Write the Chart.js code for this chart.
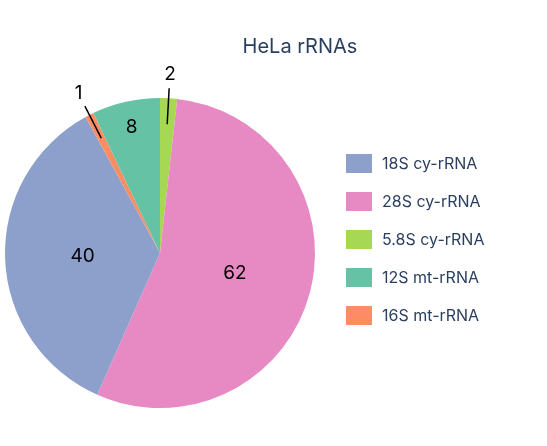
<!DOCTYPE html>
<html><head><script src="https://cdn.jsdelivr.net/npm/chart.js@4"></script>
<style>body{margin:0;background:#fff}</style></head>
<body><canvas id="c" width="547" height="446" style="width:547px;height:446px"></canvas>
<script>
const categories = ["5.8S cy-rRNA","28S cy-rRNA","18S cy-rRNA","16S mt-rRNA","12S mt-rRNA"];
const values = [2,62,40,1,8];
const colors = ["#a6d854","#e78ac3","#8da0cb","#fc8d62","#66c2a5"];
const legendOrder = ["18S cy-rRNA","28S cy-rRNA","5.8S cy-rRNA","12S mt-rRNA","16S mt-rRNA"];
const labelPos = [-1,0.5,0.5,-1,0.83]; // -1 = outside with leader
const F = "Inter, 'Noto Sans', sans-serif";
const deco = {
  id:'deco',
  afterDraw(ch){
    const c = ch.ctx, arcs = ch.getDatasetMeta(0).data;
    c.save();
    c.fillStyle='#2a3f5f'; c.textAlign='center'; c.textBaseline='middle';
    c.font='20px '+F; c.fillText('HeLa rRNAs',300,47);
    arcs.forEach((a,i)=>{
      const m=(a.startAngle+a.endAngle)/2, r=a.outerRadius, cx=a.x, cy=a.y;
      c.fillStyle='#000'; c.font='19px '+F;
      if(labelPos[i]>0){
        c.fillText(String(values[i]),cx+Math.cos(m)*r*labelPos[i],cy+Math.sin(m)*r*labelPos[i]);
      } else {
        const r1=r-26, r2=r-2;
        c.strokeStyle='#000'; c.lineWidth=1.5; c.beginPath();
        c.moveTo(cx+Math.cos(m)*r1,cy+Math.sin(m)*r1);
        c.lineTo(cx+Math.cos(m)*(r+10),cy+Math.sin(m)*(r+10)); c.stroke();
        c.fillText(String(values[i]),cx+Math.cos(m)*(r+24),cy+Math.sin(m)*(r+24));
      }
    });
    c.textAlign='left'; c.font='16px '+F; c.fillStyle='#2a3f5f';
    legendOrder.forEach((l,k)=>{
      const i=categories.indexOf(l), y=163+k*38;
      c.fillStyle=colors[i]; c.fillRect(346,y-9,26,19);
      c.fillStyle='#2a3f5f'; c.fillText(l,382,y+1);
    });
    c.restore();
  }
};
new Chart(document.getElementById('c'),{
  type:'pie',
  data:{labels:categories,datasets:[{data:values,backgroundColor:colors,borderWidth:0}]},
  options:{responsive:false,animation:false,
    layout:{padding:{left:5,top:98,right:232,bottom:38}},
    plugins:{legend:{display:false},tooltip:{enabled:false}}},
  plugins:[deco]
});
</script></body></html>
